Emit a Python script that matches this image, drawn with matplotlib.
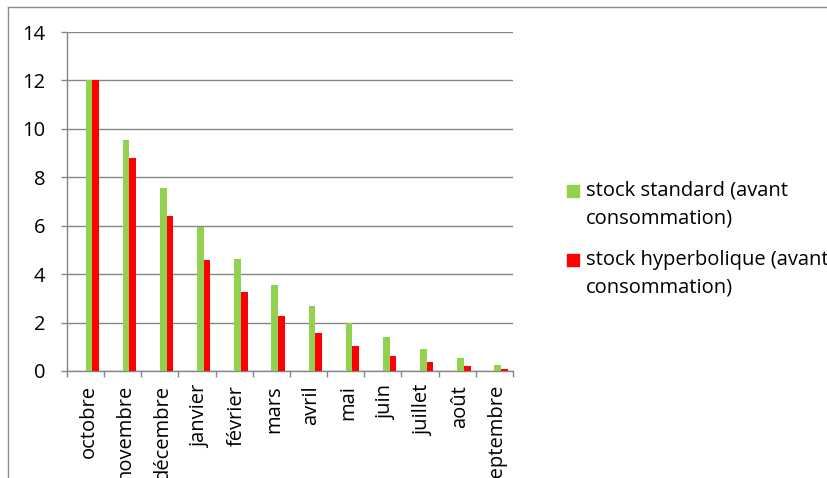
import matplotlib.pyplot as plt
import numpy as np
from matplotlib.lines import Line2D
from matplotlib.patches import Rectangle
from matplotlib.transforms import ScaledTranslation

months = ['octobre', 'novembre', 'décembre', 'janvier', 'février', 'mars',
          'avril', 'mai', 'juin', 'juillet', 'août', 'septembre']
stock_standard = [12.0, 9.55, 7.55, 5.94, 4.63, 3.55, 2.69, 1.97, 1.39, 0.92, 0.55, 0.23]
stock_hyper = [12.0, 8.79, 6.40, 4.59, 3.25, 2.27, 1.56, 1.03, 0.63, 0.37, 0.21, 0.10]
labels = ['stock standard (avant\nconsommation)', 'stock hyperbolique (avant\nconsommation)']
colors = ['#92D050', '#FF0000']

plt.rcParams['font.family'] = ['Open Sans', 'DejaVu Sans']
GRAY = '#868686'
FS = 14.5

W, H = 828, 478
fig = plt.figure(figsize=(W / 100, H / 100), dpi=100)
ax = fig.add_axes([67 / W, 1 - 371 / H, (513 - 67) / W, (371 - 32) / H])

x = np.arange(len(months))
bw = 0.18
ax.bar(x + bw / 2, stock_standard, bw, color=colors[0], zorder=3)
ax.bar(x + 1.5 * bw, stock_hyper, bw, color=colors[1], zorder=3)

ax.set_xlim(-0.5, len(months) - 0.5)
ax.set_ylim(0, 14)
ax.set_yticks(range(0, 15, 2))
ax.yaxis.grid(True, color=GRAY, lw=1, zorder=0)
ax.tick_params(axis='y', length=4.5, width=1, color=GRAY, pad=11, labelsize=FS)

ax.set_xticks(np.arange(len(months) + 1) - 0.5)
ax.set_xticklabels([])
ax.tick_params(axis='x', which='major', length=4, width=1, color=GRAY)
ax.set_xticks(x, minor=True)
ax.set_xticklabels(months, minor=True, rotation=90, va='top', ha='center')
ax.tick_params(axis='x', which='minor', length=0, pad=10, labelsize=FS)
# nudge the month names slightly right of the category centre
shift = ScaledTranslation(3 / 100, 0, fig.dpi_scale_trans)
for lab in ax.get_xticklabels(minor=True):
    lab.set_transform(lab.get_transform() + shift)

for s in ['top', 'right']:
    ax.spines[s].set_visible(False)
for s in ['left', 'bottom']:
    ax.spines[s].set_color(GRAY)
    ax.spines[s].set_linewidth(1)

# hand-built legend on the right, one text line at a time
for i, (lab, col) in enumerate(zip(labels, colors)):
    y0 = 190.5 + i * 69
    fig.patches.append(Rectangle((567 / W, 1 - (y0 + 6) / H), 12 / W, 12 / H,
                                 transform=fig.transFigure, color=col))
    for j, line in enumerate(lab.split('\n')):
        fig.text(586 / W, 1 - (y0 + j * 27.6) / H, line, fontsize=FS,
                 va='center', ha='left')

# outer chart frame
fig.add_artist(Line2D([8 / W, 8 / W], [0, 1 - 7 / H], color='#8c8c8c', lw=1,
                      transform=fig.transFigure))
fig.add_artist(Line2D([8 / W, 1], [1 - 7 / H, 1 - 7 / H], color='#8c8c8c', lw=1,
                      transform=fig.transFigure))

fig.savefig('out.png', dpi=100)
